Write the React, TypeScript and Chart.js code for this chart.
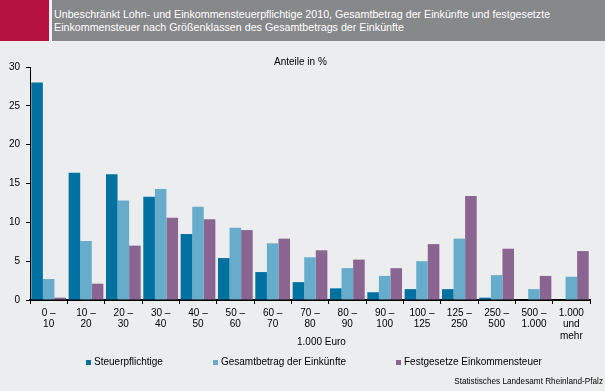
import React, { useEffect, useRef } from "react";
import { Chart, registerables } from "chart.js";

Chart.register(...registerables);

const categories: string[][] = [
  ["0 –", "10"],
  ["10 –", "20"],
  ["20 –", "30"],
  ["30 –", "40"],
  ["40 –", "50"],
  ["50 –", "60"],
  ["60 –", "70"],
  ["70 –", "80"],
  ["80 –", "90"],
  ["90 –", "100"],
  ["100 –", "125"],
  ["125 –", "250"],
  ["250 –", "500"],
  ["500 –", "1.000"],
  ["1.000", "und", "mehr"],
];

const steuerpflichtige = [28.0, 16.4, 16.2, 13.3, 8.5, 5.4, 3.6, 2.3, 1.5, 1.0, 1.4, 1.4, 0.3, 0.0, 0.0];
const gesamtbetrag = [2.7, 7.6, 12.8, 14.3, 12.0, 9.3, 7.3, 5.5, 4.1, 3.1, 5.0, 7.9, 3.2, 1.4, 3.0];
const festgesetzt = [0.3, 2.1, 7.0, 10.6, 10.4, 9.0, 7.9, 6.4, 5.2, 4.1, 7.2, 13.4, 6.6, 3.1, 6.3];

const seriesNames = ["Steuerpflichtige", "Gesamtbetrag der Einkünfte", "Festgesetze Einkommensteuer"];
const seriesColors = ["#0071a1", "#67accb", "#8b6592"];

const yTicks = [0, 5, 10, 15, 20, 25, 30];

const titleLines = [
  "Unbeschränkt Lohn- und Einkommensteuerpflichtige 2010, Gesamtbetrag der Einkünfte und festgesetzte",
  "Einkommensteuer nach Größenklassen des Gesamtbetrags der Einkünfte",
];
const unitLabel = "Anteile in %";
const xTitle = "1.000 Euro";
const sourceText = "Statistisches Landesamt Rheinland-Pfalz";

const FONT = "'Liberation Sans', Arial, sans-serif";

export default function App() {
  const canvasRef = useRef<HTMLCanvasElement | null>(null);

  useEffect(() => {
    if (!canvasRef.current) return;
    const chart = new Chart(canvasRef.current, {
      type: "bar",
      data: {
        labels: categories,
        datasets: [steuerpflichtige, gesamtbetrag, festgesetzt].map((d, i) => ({
          label: seriesNames[i],
          data: d,
          backgroundColor: seriesColors[i],
          borderWidth: 0,
          categoryPercentage: 0.93,
          barPercentage: 1.0,
        })),
      },
      options: {
        responsive: false,
        animation: false,
        layout: { padding: { top: 67, left: 0, right: 15, bottom: 49 } },
        plugins: {
          tooltip: { enabled: false },
          legend: { display: false },
        },
        scales: {
          x: {
            grid: {
              display: true,
              drawOnChartArea: false,
              drawTicks: true,
              tickLength: 4,
              color: "#000",
              offset: true,
            },
            border: { display: true, color: "#000", width: 2 },
            ticks: {
              color: "#000",
              font: { family: FONT, size: 10, lineHeight: 1.15 },
              padding: 3,
              maxRotation: 0,
              autoSkip: false,
            },
            afterFit: (s: any) => {
              s.height = 42;
            },
          },
          y: {
            min: 0,
            max: 30,
            afterBuildTicks: (s: any) => {
              s.ticks = yTicks.map((v) => ({ value: v }));
            },
            grid: {
              display: true,
              drawOnChartArea: false,
              drawTicks: true,
              tickLength: 4,
              color: "#000",
            },
            border: { display: true, color: "#000", width: 1 },
            ticks: {
              color: "#000",
              font: { family: FONT, size: 10 },
              padding: 6,
            },
            afterFit: (s: any) => {
              s.width = 30;
            },
          },
        },
      },
    });
    return () => chart.destroy();
  }, []);

  return (
    <div
      style={{
        position: "fixed",
        left: 0,
        top: 0,
        width: 605,
        height: 391,
        background: "#ecedee",
        overflow: "hidden",
        fontFamily: FONT,
      }}
    >
      <canvas ref={canvasRef} width={605} height={391} style={{ position: "absolute", left: 0, top: 0 }} />
      <div style={{ position: "absolute", left: 0, top: 0, width: 605, height: 41, background: "#f4f4f4" }} />
      <div style={{ position: "absolute", left: 0, top: 0, width: 49, height: 41, background: "#b5123f" }} />
      <div style={{ position: "absolute", left: 52, top: 0, width: 553, height: 41, background: "#87888a" }} />
      <div
        style={{
          position: "absolute",
          left: 54,
          top: 8,
          color: "#fff",
          fontSize: 10.7,
          lineHeight: "13px",
          whiteSpace: "nowrap",
        }}
      >
        {titleLines.map((t, i) => (
          <div key={i}>{t}</div>
        ))}
      </div>
      <div style={{ position: "absolute", left: 274, top: 56, fontSize: 10, color: "#000", whiteSpace: "nowrap" }}>
        {unitLabel}
      </div>
      <div style={{ position: "absolute", left: 297, top: 336, fontSize: 10, color: "#000", whiteSpace: "nowrap" }}>
        {xTitle}
      </div>
      <div
        style={{
          position: "absolute",
          left: 86,
          top: 356,
          display: "flex",
          alignItems: "center",
          gap: 50,
          fontSize: 10,
          lineHeight: "12px",
          color: "#000",
          whiteSpace: "nowrap",
        }}
      >
        {seriesNames.map((n, i) => (
          <div key={i} style={{ display: "flex", alignItems: "center" }}>
            <span
              style={{ display: "inline-block", width: 5, height: 5, background: seriesColors[i], marginRight: 3 }}
            />
            <span>{n}</span>
          </div>
        ))}
      </div>
      <div
        style={{
          position: "absolute",
          right: 2,
          top: 377,
          fontSize: 8.2,
          color: "#000",
          whiteSpace: "nowrap",
        }}
      >
        {sourceText}
      </div>
    </div>
  );
}
